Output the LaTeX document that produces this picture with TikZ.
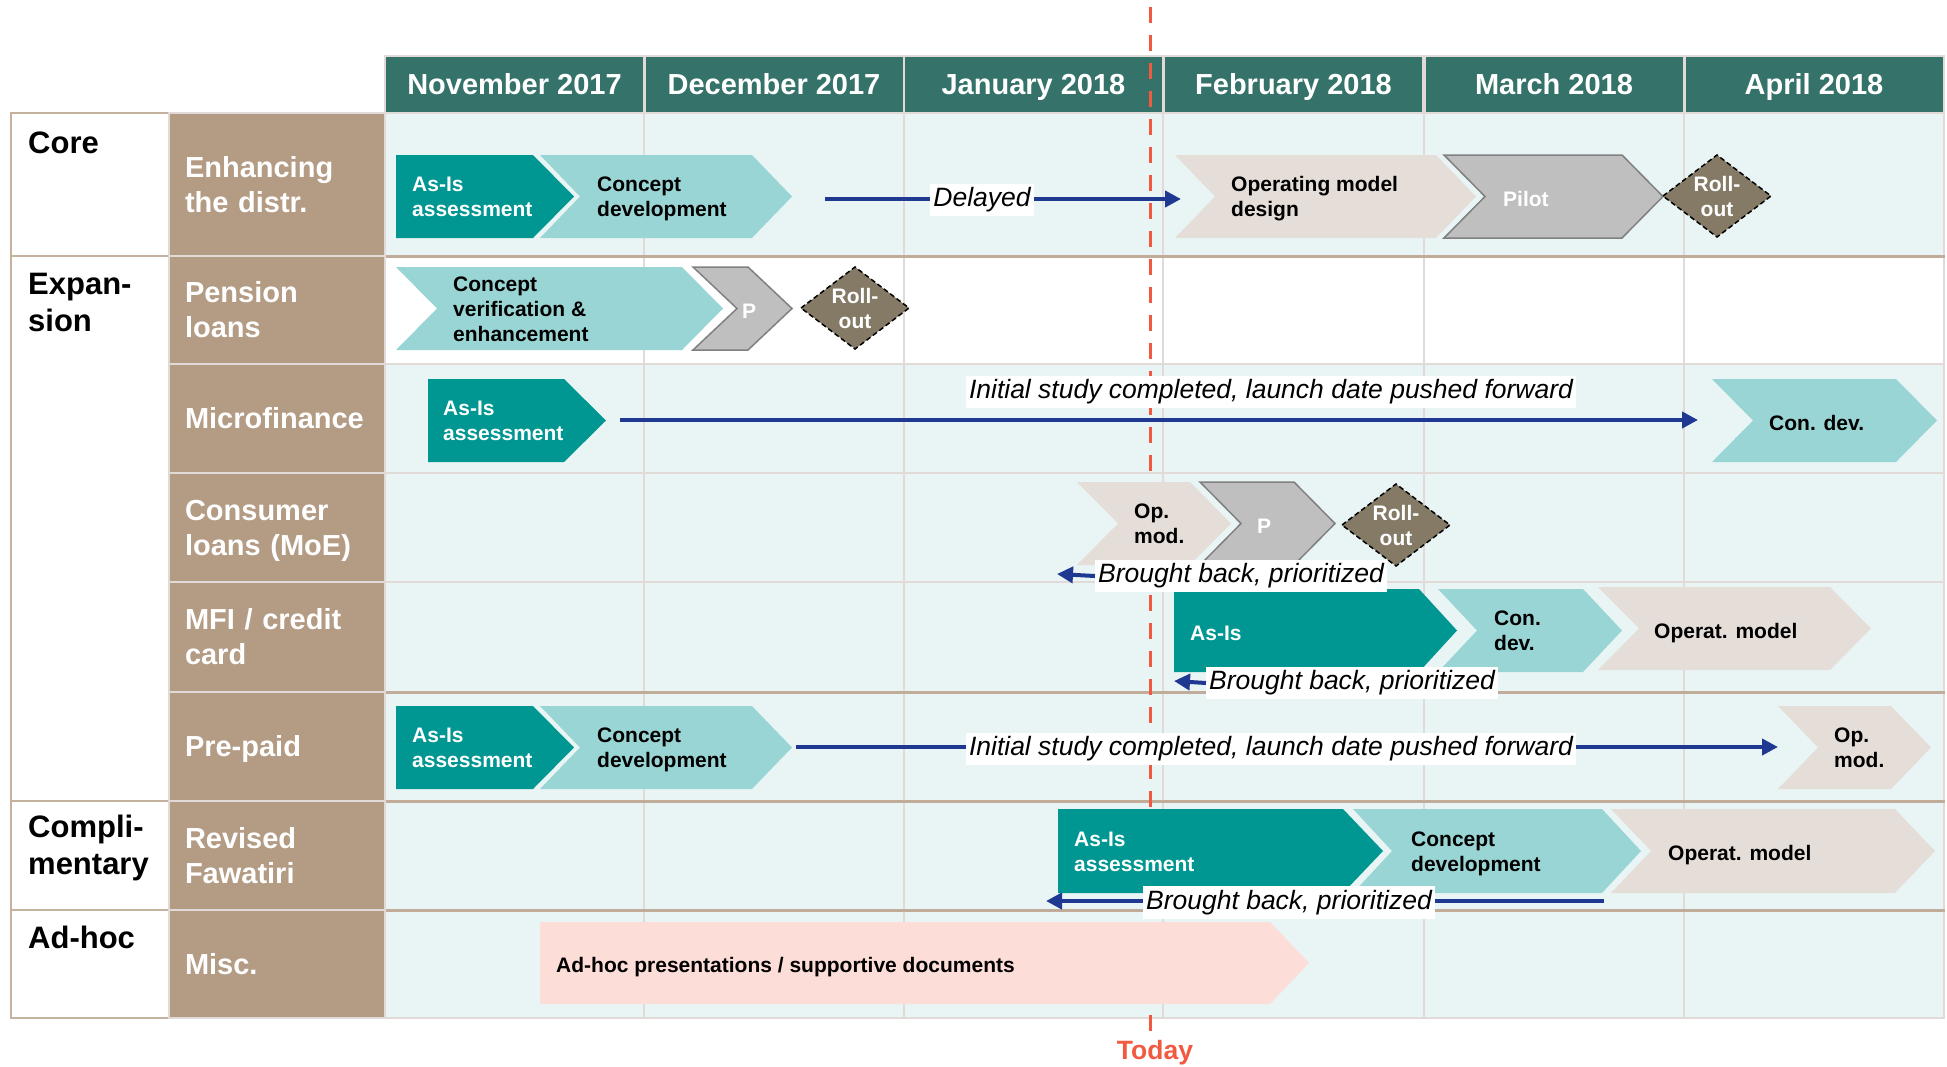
\documentclass[tikz,border=0pt]{standalone}
\usepackage{fontspec}
\setmainfont{Liberation Sans}
\usetikzlibrary{arrows.meta}
\definecolor{hdrc}{RGB}{52,114,106}
\definecolor{tanc}{RGB}{179,155,132}
\definecolor{catline}{RGB}{196,177,158}
\definecolor{bgc}{RGB}{233,245,245}
\definecolor{gridc}{RGB}{226,218,214}
\definecolor{sepc}{RGB}{192,172,152}
\definecolor{dteal}{RGB}{0,150,146}
\definecolor{lteal}{RGB}{153,213,212}
\definecolor{beigec}{RGB}{229,221,216}
\definecolor{grayc}{RGB}{191,191,191}
\definecolor{grayl}{RGB}{128,128,128}
\definecolor{diac}{RGB}{132,122,101}
\definecolor{pinkc}{RGB}{253,221,216}
\definecolor{navyc}{RGB}{31,56,146}
\definecolor{todayc}{RGB}{241,90,64}
\newcommand\ms{\rule[-.212em]{0pt}{1.117em}}
% pentagon (flat left side): name, xl, xr, ytop, ybot, depth, style
\newcommand\chevp[7]{%
  \path[#7] (#2,#4) -- (#3,#4) -- ({#3+#6},{(#4+#5)/2}) -- (#3,#5) -- (#2,#5) -- cycle;
  \coordinate (#1) at ({#3+#6},{(#4+#5)/2});}
% chevron (notched left side)
\newcommand\chevn[7]{%
  \path[#7] (#2,#4) -- (#3,#4) -- ({#3+#6},{(#4+#5)/2}) -- (#3,#5) -- (#2,#5) -- ({#2+#6},{(#4+#5)/2}) -- cycle;
  \coordinate (#1) at ({#3+#6},{(#4+#5)/2});}
% roll-out diamond: name, cx, cy
\newcommand\rolldia[3]{%
  \path[dia] ({#2-54},#3) -- (#2,{#3-41}) -- ({#2+54},#3) -- (#2,{#3+41}) -- cycle;
  \node[wctr] (#1) at (#2,#3) {Roll-\\out};}
\begin{document}
\begin{tikzpicture}[x=1pt,y=-1pt,
  hdrcell/.style={fill=hdrc, draw=gridc, line width=2pt, minimum width=259pt, minimum height=57pt, inner sep=0pt, text height=20pt, text depth=0pt, text=white, font=\fontsize{29}{34}\selectfont\bfseries},
  rowcell/.style={fill=tanc, draw=gridc, line width=2.5pt, text width=184pt, inner xsep=16pt, inner ysep=0pt, align=left, text=white, font=\fontsize{29}{35}\selectfont\bfseries, execute at begin node=\ms, execute at end node=\ms},
  catcell/.style={fill=white, draw=catline, line width=2.5pt},
  catlab/.style={anchor=north west, inner sep=0pt, align=left, font=\fontsize{31}{37}\selectfont\bfseries, execute at begin node=\ms, execute at end node=\ms},
  ctxt/.style={anchor=west, inner sep=0pt, align=left, yshift=-2.5pt, font=\fontsize{21}{25}\selectfont\bfseries, execute at begin node=\ms, execute at end node=\ms},
  wtxt/.style={ctxt, text=white},
  wctr/.style={wtxt, anchor=center, align=center},
  note/.style={fill=white, inner xsep=3pt, inner ysep=4pt, yshift=-2pt, text height=19pt, text depth=5.5pt, font=\fontsize{26.5}{30}\selectfont\itshape},
  conn/.style={draw=navyc, line width=4pt, -{Triangle[length=16pt,width=16pt]}},
  todayl/.style={draw=todayc, line width=3pt, dash pattern=on 16pt off 12pt},
  chdark/.style={fill=dteal}, chlight/.style={fill=lteal}, chbeige/.style={fill=beigec},
  chgray/.style={fill=grayc, draw=grayl, line width=1.5pt}, chpink/.style={fill=pinkc},
  dia/.style={fill=diac, draw=black, line width=1.5pt, dash pattern=on 5pt off 3pt}
]
\useasboundingbox (0,0) rectangle (1947,1066);
% ---------- grid ----------
\fill[bgc] (385,113) rectangle (1944,1018);
\fill[white] (385,256) rectangle (1944,364);
\foreach \x in {644,904,1163,1424,1684,1944} \draw[gridc, line width=2pt] (\x,113) -- (\x,1018);
\foreach \y in {364,473,582,1018} \draw[gridc, line width=2.5pt] (385,\y) -- (1945,\y);
\foreach \y in {256,692,801,910} \draw[sepc, line width=3pt] (385,\y) -- (1945,\y);
% ---------- header ----------
\node[hdrcell] (h1) at (514.5,84.5) {November 2017};
\node[hdrcell] (h2) at (774,84.5) {December 2017};
\node[hdrcell] (h3) at (1033.5,84.5) {January 2018};
\node[hdrcell] (h4) at (1293.5,84.5) {February 2018};
\node[hdrcell] (h5) at (1554,84.5) {March 2018};
\node[hdrcell] (h6) at (1814,84.5) {April 2018};
% ---------- category column ----------
\path[catcell] (11,113) rectangle (169,256);
\path[catcell] (11,256) rectangle (169,801);
\path[catcell] (11,801) rectangle (169,910);
\path[catcell] (11,910) rectangle (169,1018);
\node[catlab] (c1) at (28,125) {Core};
\node[catlab] (c2) at (28,273) {Expan-\\sion};
\node[catlab] (c3) at (28,815) {Compli-\\mentary};
\node[catlab] (c4) at (28,920) {Ad-hoc};
% ---------- row labels ----------
\node[rowcell, minimum height=143pt] (r1) at (277,184.5) {Enhancing\\the distr.};
\node[rowcell, minimum height=108pt] (r2) at (277,310) {Pension\\loans};
\node[rowcell, minimum height=109pt] (r3) at (277,418.5) {Microfinance};
\node[rowcell, minimum height=109pt] (r4) at (277,527.5) {Consumer\\loans (MoE)};
\node[rowcell, minimum height=110pt] (r5) at (277,637) {MFI / credit\\card};
\node[rowcell, minimum height=109pt] (r6) at (277,746.5) {Pre-paid};
\node[rowcell, minimum height=109pt] (r7) at (277,855.5) {Revised\\Fawatiri};
\node[rowcell, minimum height=108pt] (r8) at (277,964) {Misc.};
% ---------- today line ----------
\coordinate (tdtop) at (1150,7);
\coordinate (tdbot) at (1150,1032);
\draw[todayl] (tdtop) -- (tdbot);
\node[inner sep=0pt, text=todayc, font=\fontsize{26.5}{30}\selectfont\bfseries] (today) at (1155,1053) {Today};
% ---------- row 1 ----------
\chevp{a1}{396}{533}{155}{238}{41}{chdark}
\chevn{a2}{540}{752}{155}{238}{40}{chlight}
\chevn{a3}{1175}{1436}{155}{238}{40}{chbeige}
\chevn{a4}{1444}{1622}{155}{238}{41}{chgray}
\rolldia{a5}{1717}{196}
\node[wtxt] (a1t) at (412,196.5) {As-Is\\assessment};
\node[ctxt] (a2t) at (597,196.5) {Concept\\development};
\node[ctxt] (a3t) at (1231,196.5) {Operating model\\design};
\node[wtxt] (a4t) at (1503,196.5) {Pilot};
% ---------- row 2 ----------
\chevn{b1}{396}{682}{267}{350}{41}{chlight}
\chevn{b2}{693}{748}{267}{350}{44}{chgray}
\rolldia{b3}{855}{308}
\node[ctxt] (b1t) at (453,308.5) {Concept\\verification \&\\enhancement};
\node[wctr] (b2t) at (749,308.5) {P};
% ---------- row 3 ----------
\chevp{c1}{428}{564}{379}{462}{42}{chdark}
\chevn{c2}{1712}{1896}{379}{462}{41}{chlight}
\node[wtxt] (c1t) at (443,420.5) {As-Is\\assessment};
\node[ctxt] (c2t) at (1769,420.5) {Con. dev.};
% ---------- row 4 ----------
\chevn{d1}{1077}{1190}{482}{565}{41}{chbeige}
\chevn{d2}{1200}{1294}{482}{565}{41}{chgray}
\rolldia{d3}{1396}{525}
\node[ctxt] (d1t) at (1134,523.5) {Op.\\mod.};
\node[wctr] (d2t) at (1264,523.5) {P};
% ---------- row 5 ----------
\chevp{e1}{1174}{1419}{589}{672}{38}{chdark}
\chevn{e2}{1438}{1583}{589}{672}{39}{chlight}
\chevn{e3}{1598}{1830}{587}{670}{41}{chbeige}
\node[wtxt] (e1t) at (1190,631) {As-Is};
\node[ctxt] (e2t) at (1494,630.5) {Con.\\dev.};
\node[ctxt] (e3t) at (1654,628.5) {Operat. model};
% ---------- row 6 ----------
\chevp{f1}{396}{533}{706}{789}{41}{chdark}
\chevn{f2}{540}{752}{706}{789}{40}{chlight}
\chevn{f3}{1778}{1891}{706}{789}{40}{chbeige}
\node[wtxt] (f1t) at (412,747.5) {As-Is\\assessment};
\node[ctxt] (f2t) at (597,747.5) {Concept\\development};
\node[ctxt] (f3t) at (1834,747.5) {Op.\\mod.};
% ---------- row 7 ----------
\chevp{g1}{1058}{1343}{809}{893}{40}{chdark}
\chevn{g2}{1353}{1602}{809}{893}{39}{chlight}
\chevn{g3}{1611}{1895}{809}{893}{40}{chbeige}
\node[wtxt] (g1t) at (1074,851) {As-Is\\assessment};
\node[ctxt] (g2t) at (1411,851) {Concept\\development};
\node[ctxt] (g3t) at (1668,850.5) {Operat. model};
% ---------- row 8 ----------
\chevp{h1}{540}{1270}{922}{1004}{39}{chpink}
\node[ctxt] (h1t) at (556,963) {Ad-hoc presentations / supportive documents};
% ---------- connectors and notes ----------
\coordinate (dly0) at (825,199);
\coordinate (dly1) at (1181,199);
\draw[conn] (dly0) -- (dly1);
\node[note] (dly) at (982,198) {Delayed};
\coordinate (mf0) at (620,420);
\coordinate (mf1) at (1698,420);
\draw[conn] (mf0) -- (mf1);
\node[note] (is1) at (1271,390) {Initial study completed, launch date pushed forward};
\node[note] (bb1) at (1241,574) {Brought back, prioritized};
\coordinate (bb1e) at (1057,574);
\draw[conn] (bb1.west) -- (bb1e);
\node[note] (bb2) at (1352,681) {Brought back, prioritized};
\coordinate (bb2e) at (1174,681);
\draw[conn] (bb2.west) -- (bb2e);
\coordinate (pp0) at (796,747);
\coordinate (pp1) at (1778,747);
\draw[conn] (pp0) -- (pp1);
\node[note] (is2) at (1271,747) {Initial study completed, launch date pushed forward};
\coordinate (fw0) at (1604,901);
\coordinate (fw1) at (1046,901);
\draw[conn] (fw0) -- (fw1);
\node[note] (bb3) at (1289,900.5) {Brought back, prioritized};
\end{tikzpicture}
\end{document}
